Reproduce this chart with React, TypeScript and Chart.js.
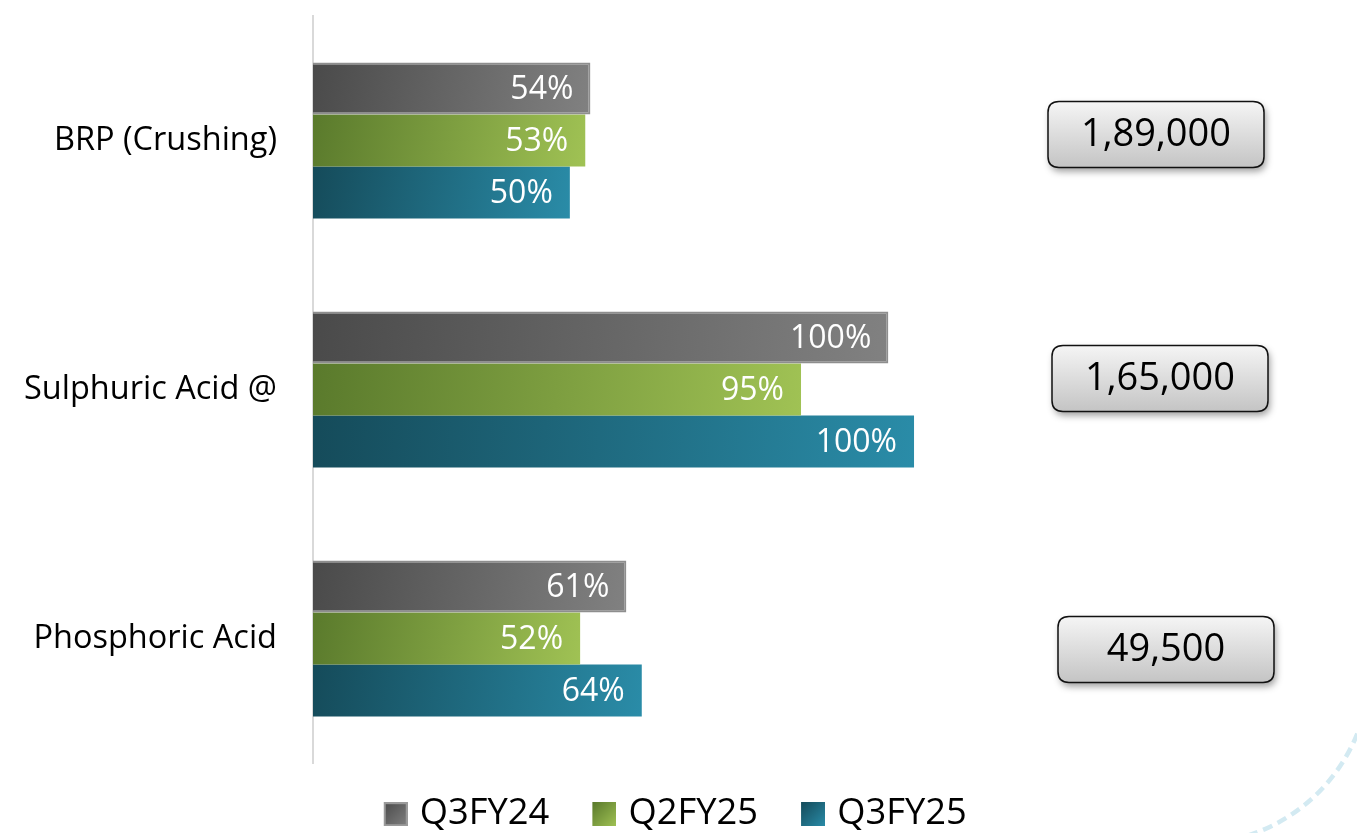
import React, { useEffect, useRef } from "react";
import { Chart, registerables } from "chart.js";

Chart.register(...registerables);

// ---------- data ----------
const categories = ["BRP (Crushing)", "Sulphuric Acid @", "Phosphoric Acid"];
const seriesNames = ["Q3FY24", "Q2FY25", "Q3FY25"];
const q3fy24Values = [54, 112, 61];
const q2fy25Values = [53, 95, 52];
const q3fy25Values = [50, 117, 64];
const q3fy24Labels = ["54%", "100%", "61%"];
const q2fy25Labels = ["53%", "95%", "52%"];
const q3fy25Labels = ["50%", "100%", "64%"];
const capacityLabels = ["1,89,000", "1,65,000", "49,500"];
const xMax = 200;

// ---------- style ----------
const FONT = "'Open Sans', 'DejaVu Sans', sans-serif";
const seriesGradients = [
  ["#4a4a4a", "#818181"],
  ["#5a7a2c", "#a0c254"],
  ["#154b5a", "#2a8ca8"],
];
const seriesBorderWidth = [2, 0, 0];
const boxLeft = [1048, 1052, 1058];
const boxOffsetY = [-6, -11, 11];
const BOX_W = 216;
const BOX_H = 66;
const BOX_R = 11;

const valueSets = [q3fy24Values, q2fy25Values, q3fy25Values];
const labelSets = [q3fy24Labels, q2fy25Labels, q3fy25Labels];

const barGradientPlugin = {
  id: "barGradient",
  beforeDatasetsDraw(chart: any) {
    const ctx = chart.ctx;
    chart.data.datasets.forEach((_ds: any, di: number) => {
      const meta = chart.getDatasetMeta(di);
      meta.data.forEach((el: any) => {
        const { x, y, base, height } = el.getProps(["x", "y", "base", "height"], true);
        const left = Math.min(x, base);
        const right = Math.max(x, base);
        const g = ctx.createLinearGradient(left, y - height / 2, right, y + height / 2);
        g.addColorStop(0, seriesGradients[di][0]);
        g.addColorStop(1, seriesGradients[di][1]);
        el.options = { ...el.options, backgroundColor: g };
      });
    });
  },
};

const valueLabelPlugin = {
  id: "valueLabels",
  afterDatasetsDraw(chart: any) {
    const ctx = chart.ctx;
    ctx.save();
    ctx.font = `32px ${FONT}`;
    ctx.fillStyle = "#ffffff";
    ctx.textAlign = "right";
    ctx.textBaseline = "middle";
    chart.data.datasets.forEach((_ds: any, di: number) => {
      const meta = chart.getDatasetMeta(di);
      meta.data.forEach((el: any, i: number) => {
        const { x, y } = el.getProps(["x", "y"], true);
        ctx.fillText(labelSets[di][i], x - 17, y + 1);
      });
    });
    ctx.restore();
  },
};

function roundRectPath(ctx: CanvasRenderingContext2D, x: number, y: number, w: number, h: number, r: number) {
  ctx.beginPath();
  ctx.moveTo(x + r, y);
  ctx.lineTo(x + w - r, y);
  ctx.quadraticCurveTo(x + w, y, x + w, y + r);
  ctx.lineTo(x + w, y + h - r);
  ctx.quadraticCurveTo(x + w, y + h, x + w - r, y + h);
  ctx.lineTo(x + r, y + h);
  ctx.quadraticCurveTo(x, y + h, x, y + h - r);
  ctx.lineTo(x, y + r);
  ctx.quadraticCurveTo(x, y, x + r, y);
  ctx.closePath();
}

const capacityBoxPlugin = {
  id: "capacityBoxes",
  afterDraw(chart: any) {
    const ctx = chart.ctx as CanvasRenderingContext2D;
    const yScale = chart.scales.y;
    capacityLabels.forEach((txt, i) => {
      const cy = yScale.getPixelForValue(i) + boxOffsetY[i];
      const x = boxLeft[i];
      const y = cy - BOX_H / 2;
      ctx.save();
      const g = ctx.createLinearGradient(0, y, 0, y + BOX_H);
      g.addColorStop(0, "#f5f5f5");
      g.addColorStop(1, "#c4c4c4");
      ctx.shadowColor = "rgba(0,0,0,0.38)";
      ctx.shadowBlur = 7;
      ctx.shadowOffsetX = 2;
      ctx.shadowOffsetY = 4;
      roundRectPath(ctx, x, y, BOX_W, BOX_H, BOX_R);
      ctx.fillStyle = g;
      ctx.fill();
      ctx.shadowColor = "rgba(0,0,0,0)";
      ctx.lineWidth = 1.5;
      ctx.strokeStyle = "#111111";
      ctx.stroke();
      ctx.font = `38px ${FONT}`;
      ctx.fillStyle = "#000000";
      ctx.textAlign = "center";
      ctx.textBaseline = "middle";
      ctx.fillText(txt, x + BOX_W / 2, cy + 1);
      ctx.restore();
    });
  },
};

const arcPlugin = {
  id: "decorArc",
  afterDraw(chart: any) {
    const ctx = chart.ctx as CanvasRenderingContext2D;
    ctx.save();
    ctx.strokeStyle = "#d3eaf2";
    ctx.lineWidth = 4.5;
    ctx.setLineDash([10, 6]);
    ctx.beginPath();
    ctx.arc(1194, 668, 176, 0.2, 1.4);
    ctx.stroke();
    ctx.restore();
  },
};

export default function App() {
  const canvasRef = useRef<HTMLCanvasElement | null>(null);

  useEffect(() => {
    const canvas = canvasRef.current;
    if (!canvas) return;

    const legendImages = seriesGradients.map((stops, i) => {
      const c = document.createElement("canvas");
      c.width = 40;
      c.height = 24;
      const g = c.getContext("2d")!;
      const grad = g.createLinearGradient(16, 0, 40, 24);
      grad.addColorStop(0, stops[0]);
      grad.addColorStop(1, stops[1]);
      g.fillStyle = grad;
      g.fillRect(16, 0, 24, 24);
      if (i === 0) {
        g.strokeStyle = "#9a9a9a";
        g.lineWidth = 2;
        g.strokeRect(17, 1, 22, 22);
      }
      return c;
    });

    const chart = new Chart(canvas, {
      type: "bar",
      data: {
        labels: categories,
        datasets: seriesNames.map((name, i) => ({
          label: name,
          data: valueSets[i],
          backgroundColor: seriesGradients[i][1],
          borderColor: "#8e8e8e",
          borderWidth: seriesBorderWidth[i],
          barPercentage: 1,
          categoryPercentage: 0.627,
        })),
      },
      options: {
        indexAxis: "y",
        responsive: false,
        animation: false,
        events: [],
        layout: { padding: { top: 16, right: 16.6, bottom: 0, left: 0 } },
        scales: {
          x: {
            display: false,
            min: 0,
            max: xMax,
          },
          y: {
            grid: { display: false, drawTicks: true, tickLength: 36 },
            border: { display: true, color: "#d9d9d9", width: 2 },
            ticks: {
              color: "#000000",
              padding: 0,
              font: { family: FONT, size: 32.5, lineHeight: 0.9 },
            },
            afterFit(scale: any) {
              scale.width = 313;
            },
          },
        },
        plugins: {
          tooltip: { enabled: false },
          legend: {
            position: "bottom",
            maxHeight: 70,
            labels: {
              usePointStyle: true,
              boxWidth: 28,
              padding: 33,
              color: "#000000",
              font: { family: FONT, size: 36.3 },
              generateLabels: () =>
                seriesNames.map((n, i) => ({
                  text: n,
                  pointStyle: legendImages[i] as any,
                  fillStyle: seriesGradients[i][1],
                  strokeStyle: "rgba(0,0,0,0)",
                  lineWidth: 0,
                  fontColor: "#000000",
                  hidden: false,
                  datasetIndex: i,
                })),
            },
          },
        },
      } as any,
      plugins: [barGradientPlugin, valueLabelPlugin, capacityBoxPlugin, arcPlugin],
    });

    return () => {
      chart.destroy();
    };
  }, []);

  return (
    <div style={{ position: "absolute", left: 0, top: 0, width: 1357, height: 833, background: "#ffffff" }}>
      <canvas ref={canvasRef} width={1357} height={833} style={{ display: "block", width: 1357, height: 833 }} />
    </div>
  );
}
